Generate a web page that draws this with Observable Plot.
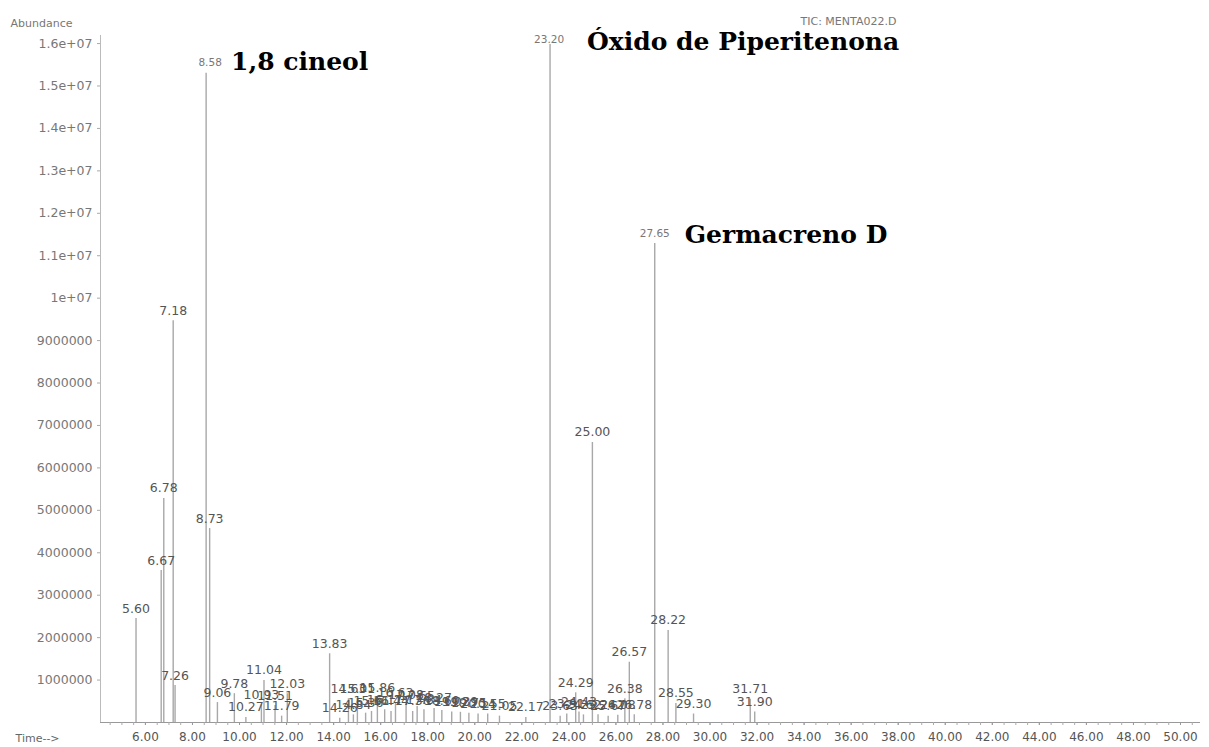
<!DOCTYPE html>
<html><head><meta charset="utf-8">
<script src="https://cdn.jsdelivr.net/npm/d3@7"></script>
<script src="https://cdn.jsdelivr.net/npm/@observablehq/plot@0.6"></script>
<style>body{margin:0;background:#fff;}</style>
</head><body><div id="chart"></div>
<script>
// Retention times (min) and abundances
const peakTimes = [5.60, 6.67, 6.78, 7.18, 7.26, 8.58, 8.73, 9.06, 9.78, 10.27, 10.93, 11.04, 11.51, 11.79, 12.03,
  13.83, 14.26, 14.63, 14.84, 15.01, 15.36, 15.61, 15.86, 16.17, 16.44, 16.63, 17.08, 17.36, 17.55, 17.84,
  18.27, 18.60, 19.02, 19.39, 19.75, 20.14, 20.55, 21.05, 22.17, 23.20, 23.63, 23.91, 24.29, 24.43, 24.62,
  25.00, 25.24, 25.67, 26.08, 26.38, 26.57, 26.78, 27.65, 28.22, 28.55, 29.30, 31.71, 31.90];
const peakHeights = [2450000, 3580000, 5280000, 9470000, 870000, 15300000, 4570000, 470000, 680000, 120000, 420000, 990000, 400000, 150000, 680000,
  1620000, 100000, 560000, 180000, 560000, 220000, 260000, 580000, 300000, 260000, 470000, 420000, 260000, 380000, 300000,
  330000, 280000, 250000, 240000, 220000, 200000, 200000, 150000, 120000, 15980000, 150000, 200000, 700000, 250000, 180000,
  6600000, 180000, 150000, 170000, 560000, 1420000, 180000, 11290000, 2170000, 450000, 200000, 550000, 250000];
const annotatedTimes = [8.58, 23.20, 27.65];
const annotatedNames = ["1,8 cineol", "Óxido de Piperitenona", "Germacreno D"];
const yTicks = d3.range(1000000, 16000001, 1000000);
const xTicks = d3.range(6, 51, 2);
const xMinorTicks = d3.range(4.5, 50.6, 0.5);

const peaks = peakTimes.map((t, i) => ({t, h: peakHeights[i], label: t.toFixed(2)}));
const plain = peaks.filter(d => !annotatedTimes.includes(d.t));
const anno = annotatedTimes.map((t, i) => ({t, h: peakHeights[peakTimes.indexOf(t)], name: annotatedNames[i], label: t.toFixed(2)}));

const yFmt = v => v >= 1e7 ? `${+(v / 1e7).toFixed(1)}e+07` : `${v}`;

const serif = {fontFamily: "DejaVu Serif", fontWeight: "bold", fill: "#000", textAnchor: "start"};
const small = {fill: "#777", fontSize: 10.5};

const chart = Plot.plot({
  width: 1209, height: 747,
  marginLeft: 100, marginRight: 9, marginTop: 35, marginBottom: 25,
  style: {fontFamily: "DejaVu Sans", background: "#fff", color: "#555"},
  x: {domain: [4.09, 50.85]},
  y: {domain: [0, 16190000]},
  marks: [
    Plot.frame({anchor: "left", stroke: "#bbb"}),
    Plot.ruleY([0], {stroke: "#999"}),
    Plot.axisY(yTicks, {tickFormat: yFmt, tickSize: 3, tickPadding: 5, stroke: "#aaa", fill: "#777", fontSize: 12.5, label: null, style: {letterSpacing: "0.9px"}}),
    Plot.axisX(xMinorTicks, {tickFormat: () => "", tickSize: 3, stroke: "#aaa", label: null}),
    Plot.axisX(xTicks, {tickFormat: d => d.toFixed(2), tickSize: 3, tickPadding: 7, stroke: "#999", fill: "#555", fontSize: 12, label: null}),
    Plot.ruleX(peaks, {x: "t", y1: 0, y2: "h", stroke: "#a8a8a8", strokeWidth: 1.4}),
    Plot.text(plain, {x: "t", y: "h", text: "label", dy: -10, fill: "#555", fontSize: 12.5}),
    Plot.text(anno.slice(0, 1), {x: "t", y: "h", text: "label", dx: 4, dy: -11, ...small}),
    Plot.text(anno.slice(1, 2), {x: "t", y: "h", text: "label", dx: -1, dy: -5, ...small}),
    Plot.text(anno.slice(2, 3), {x: "t", y: "h", text: "label", dx: 0, dy: -10, ...small}),
    Plot.text(anno.slice(0, 1), {x: "t", y: "h", text: "name", dx: 25, dy: -11, fontSize: 25, ...serif}),
    Plot.text(anno.slice(1, 2), {x: "t", y: "h", text: "name", dx: 37, dy: -2, fontSize: 25, ...serif}),
    Plot.text(anno.slice(2, 3), {x: "t", y: "h", text: "name", dx: 30, dy: -8, fontSize: 25, ...serif}),
    Plot.text(["Abundance"], {frameAnchor: "top-left", dx: -90, dy: -16, textAnchor: "start", fontSize: 11, fill: "#777"}),
    Plot.text(["TIC: MENTA022.D"], {frameAnchor: "top-left", dx: 700, dy: -18, textAnchor: "start", fontSize: 11, fill: "#777"}),
    Plot.text(["Time-->"], {frameAnchor: "bottom-left", dx: -85, dy: 19, textAnchor: "start", fontSize: 11, fill: "#666"})
  ]
});
document.getElementById("chart").appendChild(chart);
</script>
</body></html>
